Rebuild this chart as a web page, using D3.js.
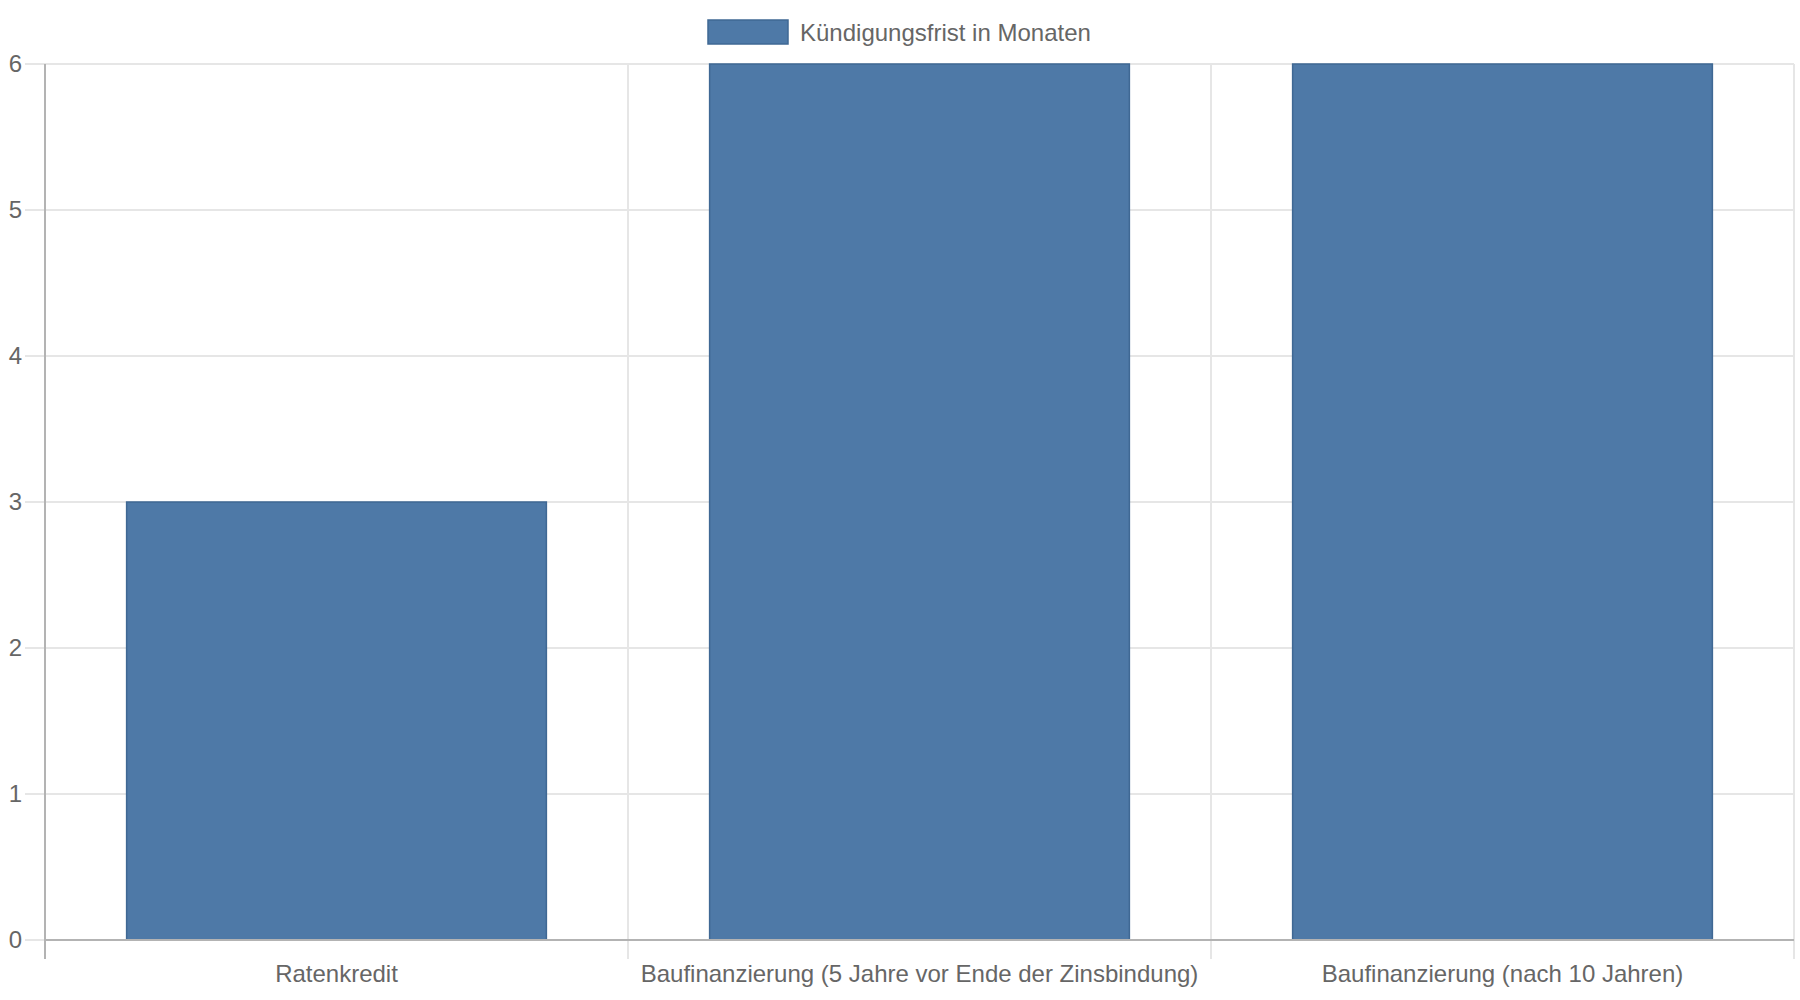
<!DOCTYPE html>
<html>
<head>
<meta charset="utf-8">
<script src="https://cdn.jsdelivr.net/npm/d3@7"></script>
<style>
  body { margin: 0; background: #fff; }
  svg text { font-family: "Liberation Sans", Arial, Helvetica, sans-serif; fill: #666; }
</style>
</head>
<body>
<div id="chart"></div>
<script>
// data
var categories = ["Ratenkredit", "Baufinanzierung (5 Jahre vor Ende der Zinsbindung)", "Baufinanzierung (nach 10 Jahren)"];
var kuendigungsfrist = [3, 6, 6];
var seriesName = "Kündigungsfrist in Monaten";
var yTicks = [0, 1, 2, 3, 4, 5, 6];

const width = 1800, height = 1000;
const margin = { top: 64, right: 6, bottom: 60, left: 45 };
const barColor = "#4e79a7", barBorder = "#3f6894";
const gridColor = "#e6e6e6", axisColor = "#b3b3b3";

const svg = d3.select("#chart")
    .append("svg")
    .attr("width", width)
    .attr("height", height)

var x = d3.scaleBand()
    .domain(categories)
    .range([margin.left, width - margin.right])
    .paddingInner(0)
    .paddingOuter(0)

var y = d3.scaleLinear()
    .domain([0, 6])
    .range([height - margin.bottom, margin.top])

// horizontal grid lines
svg.append("g")
    .selectAll("line")
    .data(yTicks)
    .join("line")
    .attr("x1", margin.left - 20)
    .attr("x2", width - margin.right)
    .attr("y1", d => y(d))
    .attr("y2", d => y(d))
    .attr("stroke", gridColor)
    .attr("stroke-width", 2)

// vertical grid lines at band edges (plus tick marks below axis)
var edges = categories.map(c => x(c)).concat([x(categories[categories.length - 1]) + x.bandwidth()]);
svg.append("g")
    .selectAll("line")
    .data(edges)
    .join("line")
    .attr("x1", d => d)
    .attr("x2", d => d)
    .attr("y1", margin.top)
    .attr("y2", height - margin.bottom + 19)
    .attr("stroke", (d, i) => i == 0 ? axisColor : gridColor)
    .attr("stroke-width", 2)

// bars
const barWidth = x.bandwidth() * 0.72;
svg.append("g")
    .selectAll("rect")
    .data(kuendigungsfrist)
    .join("rect")
    .attr("x", (d, i) => x(categories[i]) + (x.bandwidth() - barWidth) / 2)
    .attr("width", barWidth)
    .attr("y", d => y(d))
    .attr("height", d => y(0) - y(d))
    .attr("fill", barColor)
    .attr("stroke", barBorder)
    .attr("stroke-width", 1.5)

// zero line
svg.append("line")
    .attr("x1", margin.left)
    .attr("x2", width - margin.right)
    .attr("y1", y(0))
    .attr("y2", y(0))
    .attr("stroke", axisColor)
    .attr("stroke-width", 2)

// y axis labels
const yAxis = svg.append("g")
    .attr("transform", "translate(" + margin.left + ",0)")
    .call(d3.axisLeft(y).tickValues(yTicks).tickSize(20).tickPadding(3).tickFormat(d3.format("d")))
yAxis.select(".domain").remove()
yAxis.selectAll(".tick line").remove()
yAxis.selectAll("text").style("font-size", "24px").style("fill", "#666")

// x axis labels
const xAxis = svg.append("g")
    .attr("transform", "translate(0," + y(0) + ")")
    .call(d3.axisBottom(x).tickSize(0).tickPadding(25))
xAxis.select(".domain").remove()
xAxis.selectAll("text").style("font-size", "24px").style("fill", "#666")

// legend
const legend = svg.append("g")
legend.append("rect")
    .attr("x", 708)
    .attr("y", 20)
    .attr("width", 80)
    .attr("height", 24)
    .attr("fill", barColor)
    .attr("stroke", barBorder)
    .attr("stroke-width", 1.5)
legend.append("text")
    .attr("x", 800)
    .attr("y", 41)
    .style("font-size", "24px")
    .text(seriesName)
</script>
</body>
</html>
